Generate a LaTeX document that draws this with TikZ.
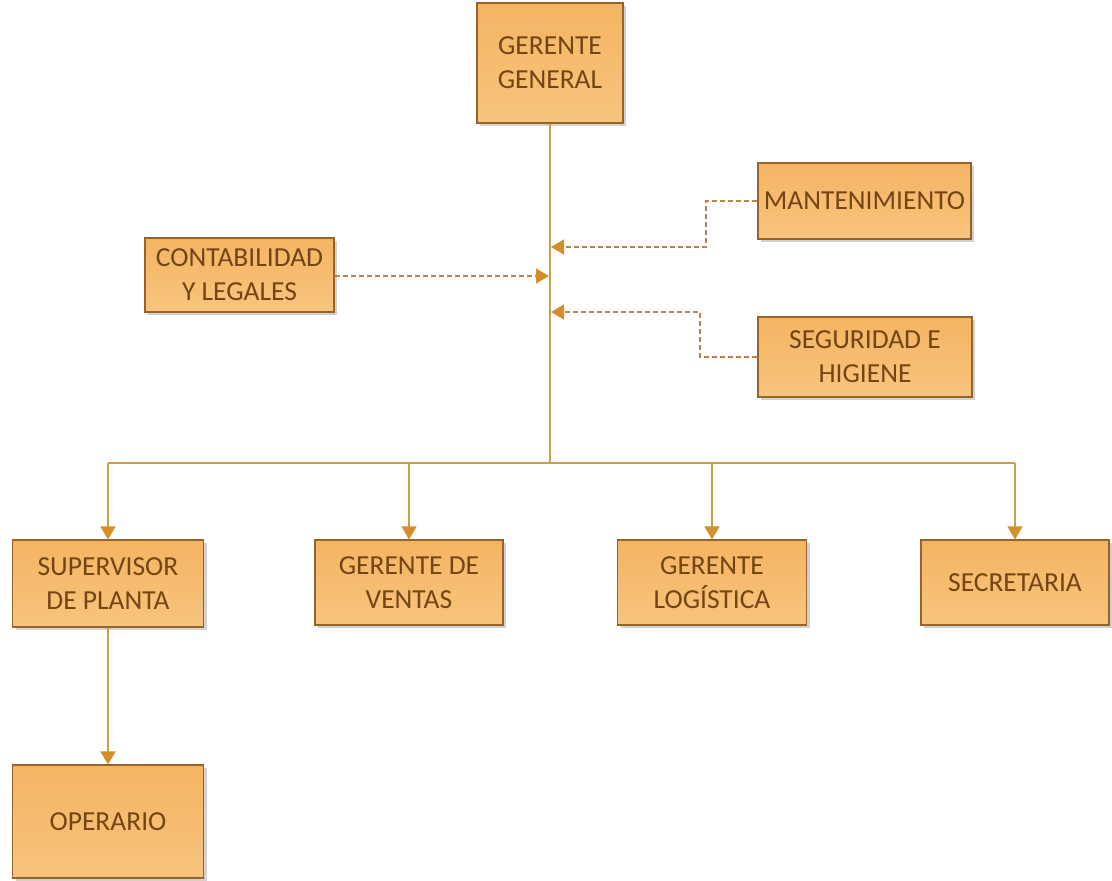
\documentclass[tikz,border=0pt]{standalone}
\usepackage{fontspec}
\setmainfont{Carlito}
\usetikzlibrary{arrows.meta,shadows}
\definecolor{boxtop}{HTML}{F4B463}
\definecolor{boxbot}{HTML}{F8C47D}
\definecolor{boxedge}{HTML}{956428}
\definecolor{boxtext}{HTML}{734512}
\definecolor{linkline}{HTML}{C9A04A}
\definecolor{tipcol}{HTML}{D58E2A}
\definecolor{dashcol}{HTML}{B8864A}
\tikzset{
  unit/.style={draw=boxedge, line width=1.1pt, top color=boxtop, bottom color=boxbot,
    text=boxtext, align=center, inner sep=0pt,
    font=\fontsize{27.5}{34}\selectfont,
    drop shadow={shadow xshift=3pt, shadow yshift=-3pt, opacity=0.3, fill=black!60}},
  solidlink/.style={draw=linkline, line width=1.3pt,
    -{Triangle[width=15pt,length=13pt,color=tipcol]}},
  plainlink/.style={draw=linkline, line width=1.3pt},
  staff/.style={draw=dashcol, line width=1.3pt, dash pattern=on 5pt off 3pt,
    -{Triangle[width=15pt,length=13pt,color=tipcol]}}
}
\begin{document}
\begin{tikzpicture}[x=1pt,y=-1pt]
\useasboundingbox (0,0) rectangle (1112,881);

% boxes
\node[unit, minimum width=146pt, minimum height=120pt] (gg) at (550,63) {GERENTE\\GENERAL};
\node[unit, minimum width=213pt, minimum height=76pt] (mant) at (864.5,201) {MANTENIMIENTO};
\node[unit, minimum width=189pt, minimum height=74pt] (cont) at (239.5,275) {CONTABILIDAD\\Y LEGALES};
\node[unit, minimum width=214pt, minimum height=80pt] (seg) at (865,357) {SEGURIDAD E\\HIGIENE};
\node[unit, minimum width=191pt, minimum height=87pt] (sup) at (108,583.5) {SUPERVISOR\\DE PLANTA};
\node[unit, minimum width=188pt, minimum height=85pt] (ven) at (409,582.5) {GERENTE DE\\VENTAS};
\node[unit, minimum width=189pt, minimum height=85pt] (log) at (712,582.5) {GERENTE\\LOGÍSTICA};
\node[unit, minimum width=188pt, minimum height=85pt] (sec) at (1015,582.5) {SECRETARIA};
\node[unit, minimum width=191pt, minimum height=113pt] (op) at (108,821.5) {OPERARIO};

% trunk and bus
\coordinate (hub) at (550,463);
\coordinate (busL) at (108,463);
\coordinate (busR) at (1015,463);
\draw[plainlink] (gg.south) -- (hub);
\draw[plainlink] (busL) -- (busR);

% staff attachment points on the trunk
\coordinate (jm) at (550,247);
\coordinate (jc) at (550,276);
\coordinate (js) at (550,312);

% line reports
\draw[solidlink] (busL) -- (sup.north);
\draw[solidlink] (ven.north |- hub) -- (ven.north);
\draw[solidlink] (log.north |- hub) -- (log.north);
\draw[solidlink] (busR) -- (sec.north);
\draw[solidlink] (sup.south) -- (op.north);

% staff units
\draw[staff] (mant.west) -- (706,201) -- (706,247) -- ([xshift=1pt]jm);
\draw[staff] (cont.east |- jc) -- ([xshift=-1pt]jc);
\draw[staff] (seg.west) -- (700,357) -- (700,312) -- ([xshift=1pt]js);
\end{tikzpicture}
\end{document}
